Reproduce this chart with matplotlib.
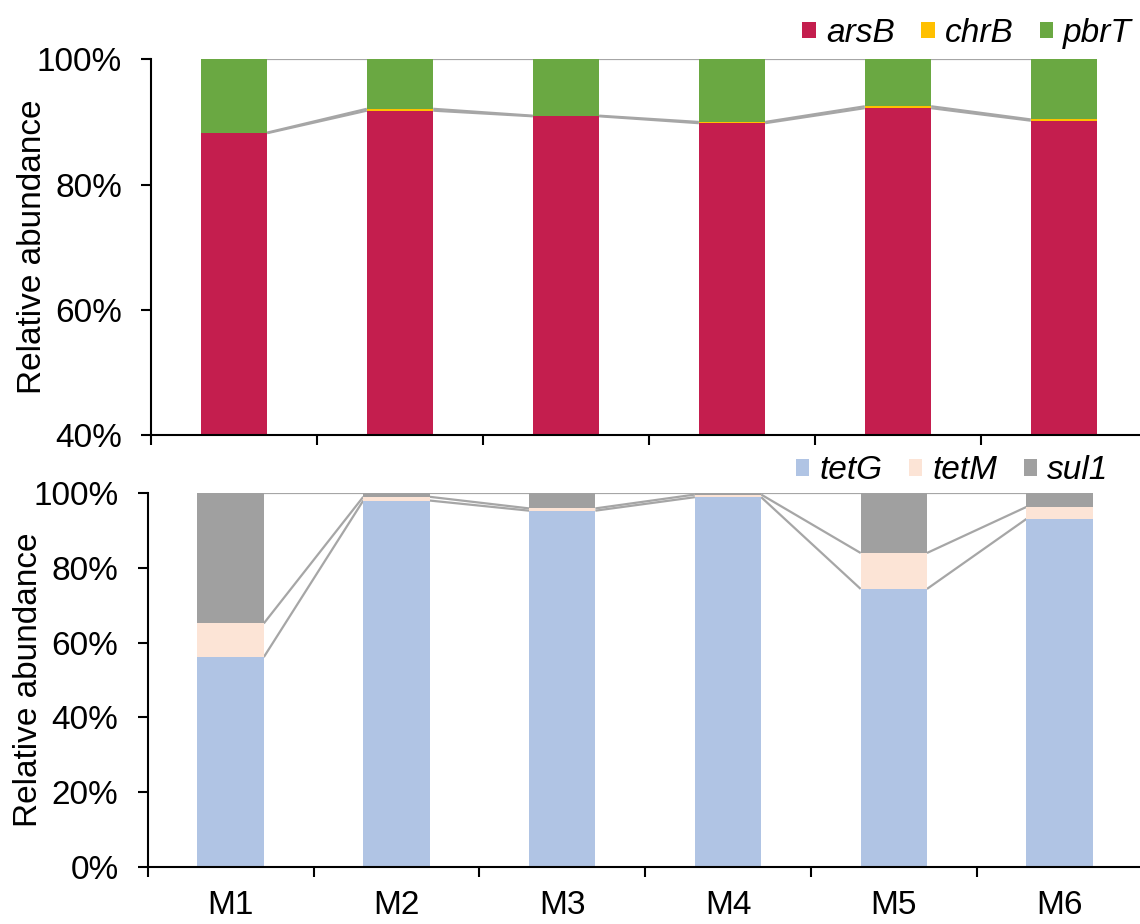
import matplotlib
matplotlib.use("Agg")
import matplotlib.pyplot as plt
import numpy as np
from matplotlib.ticker import PercentFormatter

plt.rcParams["font.family"] = ["Liberation Sans", "DejaVu Sans"]

samples = ["M1", "M2", "M3", "M4", "M5", "M6"]

# Metal resistance genes (relative abundance, %)
metal_genes = ["arsB", "chrB", "pbrT"]
arsB = [88.2, 91.8, 90.9, 89.8, 92.2, 90.2]
chrB = [0.1, 0.3, 0.1, 0.2, 0.3, 0.2]
pbrT = [11.7, 7.9, 9.0, 10.0, 7.5, 9.6]
metal_colors = ["#C41E4E", "#FFC000", "#6AA842"]

# Antibiotic resistance genes (relative abundance, %)
abx_genes = ["tetG", "tetM", "sul1"]
tetG = [56.1, 97.9, 95.2, 98.8, 74.3, 93.0]
tetM = [9.0, 1.0, 0.6, 0.7, 9.6, 3.2]
sul1 = [34.9, 1.1, 4.2, 0.5, 16.1, 3.8]
abx_colors = ["#B0C4E4", "#FCE4D6", "#A0A0A0"]

BAR_W = 0.4
LINE_COLOR = "#A6A6A6"
FS = 24


def stacked_panel(ax, series, names, colors):
    x = np.arange(len(samples))
    bottom = np.zeros(len(samples))
    tops = []
    for vals, name, col in zip(series, names, colors):
        vals = np.asarray(vals, dtype=float)
        ax.bar(x, vals, BAR_W, bottom=bottom, color=col, label=name,
               linewidth=0, zorder=2)
        bottom = bottom + vals
        tops.append(bottom.copy())
    # series lines joining the top of each stacked segment
    for top in tops:
        for i in range(len(samples) - 1):
            ax.plot([x[i] + BAR_W / 2, x[i + 1] - BAR_W / 2],
                    [top[i], top[i + 1]], color=LINE_COLOR, lw=1.6,
                    solid_capstyle="butt", zorder=1)
    ax.set_xlim(-0.5, len(samples) - 0.5)
    ax.set_xticks(np.arange(len(samples) + 1) - 0.5)
    ax.set_xticklabels([])
    for side in ("top", "right"):
        ax.spines[side].set_visible(False)
    for side in ("left", "bottom"):
        ax.spines[side].set_linewidth(1.5)
    ax.tick_params(axis="both", direction="out", length=7, width=1.5,
                   labelsize=FS, pad=14)
    ax.yaxis.set_major_formatter(PercentFormatter(decimals=0))
    ax.set_ylabel("Relative abundance", fontsize=FS, va="center")


fig = plt.figure(figsize=(11.4, 9.24), dpi=100)
ax1 = fig.add_axes([0.1325, 0.5292, 0.8736, 0.4066])
ax2 = fig.add_axes([0.1296, 0.0614, 0.8726, 0.4054])

stacked_panel(ax1, [arsB, chrB, pbrT], metal_genes, metal_colors)
ax1.set_ylim(40, 100)
ax1.set_yticks([40, 60, 80, 100])
ax1.yaxis.set_label_coords(-0.1188, 0.5)

stacked_panel(ax2, [tetG, tetM, sul1], abx_genes, abx_colors)
ax2.set_ylim(0, 100)
ax2.set_yticks([0, 20, 40, 60, 80, 100])
ax2.yaxis.set_label_coords(-0.1198, 0.5)

# category names centred under each bar
for i, name in enumerate(samples):
    ax2.text(i, -10.3, name, ha="center", va="center", fontsize=FS,
             clip_on=False)

legend_kw = dict(ncol=3, frameon=False, handlelength=0.4, handleheight=0.4,
                 handletextpad=0.3, columnspacing=0.8, borderaxespad=0,
                 borderpad=0, prop={"size": FS, "style": "italic"})
ax1.legend(loc="center right", bbox_to_anchor=(0.985, 1.069), **legend_kw)
ax2.legend(loc="center right", bbox_to_anchor=(0.966, 1.058), **legend_kw)

fig.savefig("out.png", dpi=100)
